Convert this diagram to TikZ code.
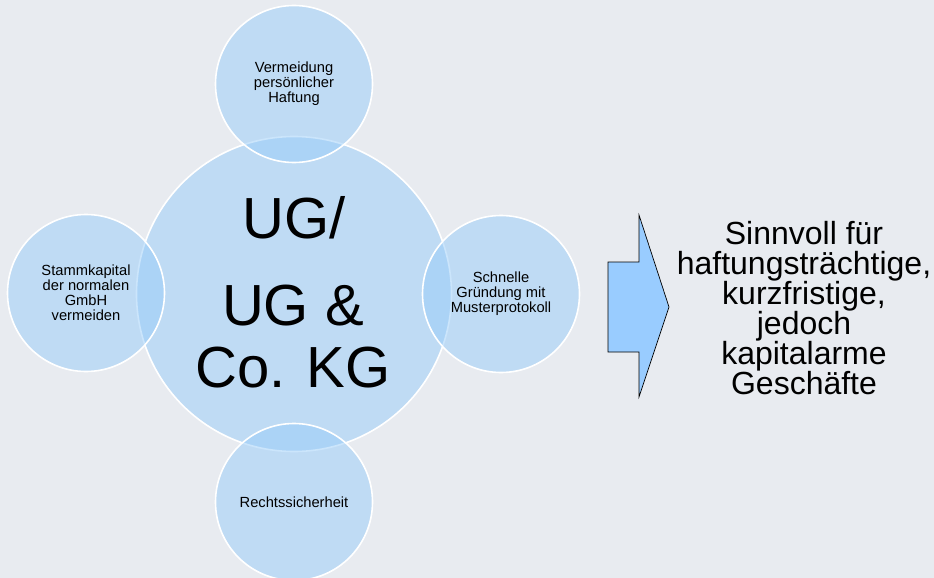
\documentclass[tikz,border=0pt]{standalone}
\usepackage{fontspec}
\setmainfont{Liberation Sans}
\definecolor{bg}{RGB}{232,235,240}
\definecolor{circfill}{RGB}{152,204,249}
\definecolor{arrowfill}{RGB}{153,204,255}
\begin{document}
\begin{tikzpicture}[x=1pt,y=-1pt,
  bubble/.style={circle, fill=circfill, fill opacity=0.5, text opacity=1,
    draw=white, draw opacity=1, line width=1.6pt, inner sep=0pt,
    minimum size=157pt, align=center, text=black,
    font=\fontsize{14.7}{15}\selectfont},
  bigtext/.style={anchor=base, text=black, inner sep=0pt,
    font=\fontsize{58}{60}\selectfont},
  sidetext/.style={align=center, text=black, inner sep=0pt,
    font=\fontsize{32}{30}\selectfont},
  blockarrow/.style={fill=arrowfill, draw=black, line width=0.7pt, line join=miter}]
\fill[bg] (0,0) rectangle (934,578);
\useasboundingbox (0,0) rectangle (934,578);

\node[bubble, minimum size=315pt] (main) at (294,294) {};
\node[bubble] (top) at (294,84) {Vermeidung\\persönlicher\\Haftung};
\node[bubble] (left) at (86,293) {Stammkapital\\der normalen\\GmbH\\vermeiden};
\node[bubble] (right) at (501,294) {Schnelle\\Gründung mit\\Musterprotokoll};
\node[bubble] (bottom) at (294,502) {Rechtssicherheit};

\node[bigtext] (l1) at (294,238) {UG/};
\node[bigtext] (l2) at (293,325) {UG \&};
\node[bigtext] (l3) at (293,387) {Co. KG};

\draw[blockarrow] (608,262) -- (639,262) -- (639,215) -- (669,307)
  -- (639,397) -- (639,352) -- (608,352) -- cycle;

\node[sidetext] (result) at (804,308) {Sinnvoll für\\haftungsträchtige,\\kurzfristige,\\jedoch\\kapitalarme\\Geschäfte};
\end{tikzpicture}
\end{document}
